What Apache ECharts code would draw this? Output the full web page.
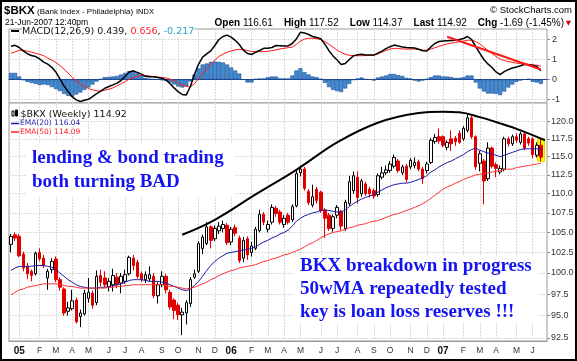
<!DOCTYPE html>
<html><head><meta charset="utf-8">
<script src="https://cdn.jsdelivr.net/npm/echarts@6/dist/echarts.min.js"></script>
<style>html,body{margin:0;padding:0;background:#fff}#c{width:577px;height:361px}</style>
</head><body><div id="c"></div>
<script>
// ---- data ----
const firstWeek = [2004, 11, 20]; // Monday of the first weekly bar (UTC y, m0, d)
const monthLabels = ['05','F','M','A','M','J','J','A','S','O','N','D','06','F','M','A','M','J','J','A','S','O','N','D','07','F','M','A','M','J'];
// [open, close, low, high]
const ohlc = [
[103.5,104.5,102.5,104.8],[104.7,104.3,103.9,105.0],[104.5,102.1,101.9,104.8],[102.3,100.6,100.2,102.6],[100.8,99.9,99.3,101.2],
[100.2,99.7,99.0,100.4],[99.9,102.4,99.7,102.6],[102.5,101.7,101.4,103.0],[101.8,100.9,100.6,102.2],[99.4,100.2,98.0,100.5],
[100.4,101.4,100.0,101.8],[101.7,99.2,98.9,102.0],[99.2,98.3,97.9,99.5],[98.1,95.3,95.0,98.3],[95.5,95.9,95.0,96.6],
[95.8,96.7,95.6,98.0],[96.8,94.3,94.1,97.1],[94.9,95.3,93.7,95.7],[95.2,97.6,95.0,98.0],[97.0,97.7,96.5,99.4],
[97.6,96.2,95.8,97.9],[96.5,99.6,96.2,100.3],[99.7,98.9,98.4,100.4],[99.4,98.6,98.3,100.2],[98.3,99.0,97.8,99.4],
[98.6,99.7,97.8,100.5],[99.5,98.6,98.2,100.0],[98.8,99.6,97.6,100.0],[99.0,99.8,98.7,100.4],[99.9,101.9,99.7,102.1],
[101.8,100.9,100.3,102.2],[101.3,99.6,99.3,101.6],[99.9,99.2,98.9,100.2],[99.2,99.8,98.8,100.2],[99.3,99.8,99.0,100.8],
[99.6,97.3,97.0,100.0],[97.3,98.6,96.4,98.9],[98.6,99.6,98.3,100.2],[99.6,98.0,97.6,99.9],[97.7,96.0,95.7,98.0],
[96.8,95.6,94.6,97.0],[96.2,95.1,94.5,96.5],[95.1,95.4,92.8,95.9],[95.3,96.5,94.0,96.8],[96.4,99.2,96.0,99.5],
[99.5,99.9,99.3,100.4],[100.2,103.6,100.0,103.9],[103.0,104.4,102.3,104.7],[103.6,105.7,103.4,106.3],[105.7,104.0,103.0,105.9],
[104.2,105.5,103.9,105.9],[105.2,105.8,104.8,106.3],[105.5,106.0,105.0,106.5],[105.9,103.7,103.4,106.2],[103.8,105.4,103.4,105.7],
[105.6,104.9,104.5,106.0],[104.3,101.5,101.2,104.6],[101.8,104.0,101.3,104.4],[104.2,102.2,101.6,104.5],[102.5,103.3,102.0,103.8],
[103.0,105.4,102.8,105.7],[105.2,107.3,105.0,107.9],[107.3,106.3,105.9,107.6],[105.4,106.0,105.0,106.5],[106.3,108.2,106.0,108.6],
[108.1,107.4,107.0,108.4],[107.6,106.3,106.0,107.9],[106.0,106.8,105.6,107.2],[107.2,106.3,106.0,107.5],[106.6,108.3,106.3,108.6],
[108.4,112.7,108.2,113.3],[112.8,113.3,112.3,113.8],[113.3,110.7,110.4,113.6],[110.3,108.8,108.5,110.6],[108.5,109.6,108.2,111.2],
[110.6,109.1,108.7,110.9],[110.2,107.8,107.5,110.4],[107.8,106.8,104.3,108.1],[107.2,105.5,105.2,107.5],[105.5,107.0,105.1,107.3],
[107.2,108.2,106.8,108.5],[107.7,105.8,105.2,107.9],[105.5,108.9,105.2,109.2],[108.7,111.6,108.4,112.4],[110.4,112.4,110.0,113.0],
[112.2,109.5,108.7,113.0],[110.0,111.7,109.6,112.0],[111.3,110.0,109.7,111.6],[110.6,110.0,109.5,110.9],[110.4,109.7,109.3,110.7],
[109.9,112.4,109.6,112.7],[112.2,112.8,111.9,113.6],[112.8,113.2,112.5,113.8],[113.1,114.0,112.8,114.4],[113.7,114.9,113.4,115.3],
[114.4,113.1,112.8,114.7],[112.8,113.6,112.5,113.9],[113.7,111.9,111.5,114.0],[113.6,114.5,113.3,114.8],[113.8,114.2,113.4,114.9],
[114.3,113.3,113.0,114.6],[113.3,112.0,111.3,113.6],[113.1,114.0,112.7,114.3],[114.2,117.3,114.0,117.6],[117.1,117.7,116.8,118.2],
[117.8,117.2,116.8,119.0],[117.8,116.6,116.3,118.0],[116.3,117.0,115.9,117.3],[117.5,116.8,115.8,118.7],[117.6,117.1,116.5,117.9],
[118.3,117.0,116.8,118.7],[117.5,119.0,117.2,119.3],[118.7,120.5,118.4,121.0],[120.5,117.8,117.5,120.8],[117.8,113.6,113.2,118.0],
[114.1,115.4,113.0,115.8],[114.4,111.7,108.6,114.7],[112.0,116.2,111.7,117.0],[116.2,113.7,113.4,116.4],[113.9,113.4,112.2,114.2],
[112.9,113.4,112.6,113.8],[113.3,117.5,113.0,117.8],[117.5,116.8,116.4,117.8],[116.8,117.8,116.5,118.1],[117.8,117.3,116.9,118.3],
[117.0,118.2,116.7,118.5],[118.2,116.2,115.9,118.4],[117.5,116.9,116.5,117.8],[117.5,115.3,114.8,117.7],[115.2,116.6,114.9,117.0],
[116.61,114.92,114.37,117.52]
];
const ema20 = [
100.3,100.6,100.8,100.8,100.8,100.8,100.9,100.9,100.9,100.8,
100.7,100.4,100.0,99.6,99.2,98.9,98.6,98.4,98.3,98.2,
98.2,98.2,98.3,98.3,98.4,98.5,98.6,98.7,98.9,99.1,
99.2,99.2,99.2,99.1,99.0,99.0,99.0,98.9,98.8,98.6,
98.4,98.2,98.0,97.9,98.1,98.5,99.0,99.6,100.3,100.9,
101.4,101.8,102.1,102.4,102.5,102.6,102.7,102.8,102.9,103.0,
103.2,103.5,103.8,104.0,104.3,104.5,104.8,105.0,105.3,105.8,
106.4,106.8,107.1,107.3,107.5,107.6,107.8,107.9,107.8,107.7,
107.6,107.6,107.9,108.3,108.7,109.0,109.3,109.5,109.7,109.9,
110.2,110.5,110.8,111.0,111.2,111.3,111.4,111.4,111.5,111.7,
111.9,112.1,112.4,112.9,113.2,113.6,113.9,114.2,114.4,114.7,
115.0,115.3,115.7,116.0,116.2,115.9,115.7,115.5,115.4,115.2,
115.0,115.2,115.4,115.6,115.8,116.0,116.1,116.1,116.1,116.1,
116.04];
const ema50 = [
97.4,97.7,98.0,98.1,98.3,98.4,98.5,98.6,98.7,98.7,
98.7,98.7,98.6,98.5,98.4,98.4,98.3,98.2,98.2,98.2,
98.2,98.2,98.2,98.2,98.3,98.3,98.4,98.4,98.5,98.5,
98.6,98.6,98.6,98.6,98.6,98.6,98.6,98.6,98.5,98.4,
98.4,98.3,98.2,98.1,98.2,98.3,98.5,98.7,98.9,99.2,
99.4,99.7,99.9,100.1,100.3,100.4,100.6,100.7,100.8,100.9,
101.0,101.2,101.4,101.5,101.7,101.8,102.0,102.2,102.3,102.5,
102.7,102.9,103.2,103.5,103.7,104.0,104.3,104.6,104.8,105.0,
105.1,105.2,105.4,105.6,105.7,105.9,106.0,106.1,106.3,106.4,
106.5,106.7,106.9,107.1,107.3,107.4,107.6,107.8,108.0,108.2,
108.4,108.7,109.0,109.4,109.8,110.2,110.6,110.9,111.1,111.4,
111.6,111.9,112.1,112.3,112.5,112.6,112.7,112.8,112.9,113.0,
113.1,113.2,113.3,113.3,113.5,113.6,113.7,113.8,113.9,114.0,
114.09];
const macdLine = [
1.66,1.71,1.60,1.43,1.29,1.20,1.15,1.03,0.87,0.77,
0.61,0.37,0.03,-0.32,-0.60,-0.86,-1.02,-1.10,-1.04,-0.99,
-0.86,-0.71,-0.58,-0.44,-0.35,-0.27,-0.18,-0.05,0.16,0.37,
0.42,0.35,0.27,0.16,0.14,0.14,0.10,0.06,-0.02,-0.20,
-0.42,-0.61,-0.75,-0.77,-0.35,0.25,0.76,1.12,1.28,1.43,
1.70,2.00,2.15,2.22,2.12,1.96,1.75,1.47,1.30,1.25,
1.36,1.45,1.56,1.56,1.60,1.70,1.69,1.67,1.68,1.80,
2.03,2.36,2.33,2.25,2.15,2.10,2.04,1.77,1.44,1.18,
0.97,0.75,0.80,1.00,1.18,1.24,1.26,1.23,1.22,1.22,
1.32,1.42,1.54,1.64,1.72,1.67,1.63,1.60,1.59,1.58,
1.51,1.44,1.42,1.63,1.80,1.90,1.92,1.94,1.95,1.96,
2.00,2.05,2.15,2.00,1.65,1.32,1.00,0.78,0.60,0.38,
0.24,0.39,0.49,0.58,0.62,0.69,0.76,0.74,0.70,0.65,
0.44];
const signalLine = [
1.31,1.38,1.46,1.46,1.42,1.37,1.31,1.26,1.19,1.07,
0.97,0.85,0.70,0.52,0.32,0.11,-0.06,-0.22,-0.35,-0.45,
-0.52,-0.56,-0.58,-0.54,-0.48,-0.42,-0.32,-0.21,-0.11,0.02,
0.11,0.17,0.21,0.20,0.17,0.14,0.12,0.10,0.08,0.02,
-0.06,-0.18,-0.29,-0.35,-0.36,-0.22,0.05,0.30,0.55,0.78,
0.98,1.15,1.27,1.36,1.43,1.48,1.51,1.50,1.45,1.40,
1.39,1.39,1.40,1.41,1.44,1.48,1.53,1.56,1.59,1.62,
1.75,1.92,2.02,2.06,2.06,2.04,1.99,1.90,1.76,1.62,
1.47,1.35,1.26,1.21,1.19,1.19,1.19,1.20,1.21,1.22,
1.28,1.36,1.45,1.52,1.56,1.55,1.53,1.52,1.52,1.52,
1.50,1.47,1.46,1.52,1.59,1.66,1.72,1.78,1.82,1.85,
1.89,1.92,1.96,1.97,1.90,1.78,1.62,1.45,1.30,1.15,
1.02,0.95,0.90,0.86,0.82,0.80,0.78,0.76,0.74,0.71,
0.66];
const histogram = [
0.33,0.33,0.15,-0.03,-0.12,-0.17,-0.22,-0.28,-0.25,-0.28,
-0.38,-0.48,-0.58,-0.72,-0.82,-0.85,-0.75,-0.65,-0.52,-0.40,
-0.25,-0.10,0.02,0.12,0.13,0.15,0.18,0.25,0.33,0.42,
0.45,0.30,0.20,0.08,0.03,0.02,0.00,-0.03,-0.08,-0.15,
-0.25,-0.35,-0.40,-0.33,-0.10,0.25,0.55,0.75,0.80,0.88,
0.90,0.88,0.85,0.75,0.60,0.45,0.30,0.00,-0.15,-0.15,
0.03,0.05,0.05,0.12,0.15,0.15,0.05,0.05,0.05,0.20,
0.45,0.57,0.37,0.25,0.15,0.12,0.03,-0.17,-0.38,-0.52,
-0.58,-0.63,-0.45,-0.22,-0.02,0.05,0.10,0.02,0.00,-0.05,
0.10,0.15,0.20,0.28,0.28,0.22,0.18,0.08,0.05,-0.05,
-0.10,-0.05,0.03,0.12,0.20,0.20,0.15,0.15,0.12,0.08,
0.08,0.12,0.20,0.20,-0.15,-0.45,-0.60,-0.70,-0.70,-0.72,
-0.78,-0.60,-0.40,-0.25,-0.12,-0.05,0.00,0.03,-0.12,-0.15,
-0.22];
// hand-drawn annotation lines: [week index, value]
const arcPoints = [[42,104.7],[50,106.6],[60,109.9],[70,113.2],[80,117.0],[90,119.8],[100,121.2],[106,121.4],[110,121.3],[115,120.6],[120,119.7],[125,118.7],[131,117.3]];
const macdTrend = [[107,2.14],[130,0.50]];
const priceTicks = [92.5,95,97.5,100,102.5,105,107.5,110,112.5,115,117.5,120];
const macdTicks = [-1,0,1,2];

// ---- build ----
const N = ohlc.length;
const weeks = [];
for (let i = 0; i < N; i++) {
  const t = Date.UTC(firstWeek[0], firstWeek[1], firstWeek[2]) + i * 7 * 864e5;
  weeks.push(new Date(t).toISOString().slice(0, 10));
}
const cats = weeks.concat(['']);
const labelMap = {};
let mi = 0;
for (let i = 1; i < N; i++) {
  if (weeks[i].slice(5, 7) !== weeks[i - 1].slice(5, 7)) labelMap[i] = monthLabels[mi++];
}
const isMonth = (idx) => labelMap[idx] !== undefined;
const highlight = ohlc.map((d, i) => i === N - 1 ? [d[3], d[2], d[2], d[3]] : '-');

const GRID = '#d9d9d9';
const sans = '"Liberation Sans", Arial, sans-serif';
const dvs = '"DejaVu Sans", Verdana, sans-serif';
const serif = '"Liberation Serif", "Times New Roman", serif';
const BLUE = '#1414f0';

const xBase = (gi, showLabels) => ({
  type: 'category', gridIndex: gi, data: cats, boundaryGap: true,
  axisTick: { show: false },
  axisLine: gi === 0 ? { show: true, onZero: true, lineStyle: { color: '#1b3f98', width: 1 } } : { show: true, onZero: false, lineStyle: { color: '#999' } },
  axisLabel: showLabels ? {
    interval: (idx) => isMonth(idx),
    formatter: (v, idx) => { const l = labelMap[idx] || ''; return /^\d/.test(l) ? '{y|' + l + '}' : l; },
    color: '#333', fontSize: 8.5, fontFamily: sans, margin: 5,
    rich: { y: { fontWeight: 'bold', fontSize: 10, color: '#111', fontFamily: sans } }
  } : { show: false },
  splitLine: { show: true, interval: (idx) => isMonth(idx), alignWithLabel: true, lineStyle: { color: GRID, width: 1, type: [2, 1] } }
});

const option = {
  animation: false,
  backgroundColor: '#fff',
  grid: [
    { left: 9, right: 30, top: 29, height: 74, show: true, borderColor: '#999', borderWidth: 1, backgroundColor: '#fff' },
    { left: 9, right: 30, top: 103, height: 238, show: true, borderColor: '#999', borderWidth: 1, backgroundColor: '#fff' }
  ],
  xAxis: [xBase(0, false), xBase(1, true)],
  yAxis: [
    { type: 'value', gridIndex: 0, position: 'right', min: -1.175, max: 2.525,
      axisLine: { show: false },
      axisTick: { show: true, customValues: macdTicks, length: 3, lineStyle: { color: '#888' } },
      axisLabel: { customValues: macdTicks, formatter: (v) => String(v), color: '#333', fontSize: 9, fontFamily: sans, margin: 5 },
      splitLine: { show: true, lineStyle: { color: GRID, type: [2, 1] } } },
    { type: 'log', logBase: 10, gridIndex: 1, position: 'right', min: 92.15, max: 122.67,
      axisLine: { show: false },
      axisTick: { show: true, customValues: priceTicks, length: 3, lineStyle: { color: '#888' } },
      axisLabel: { customValues: priceTicks, formatter: (v) => Number(v).toFixed(1), color: '#333', fontSize: 9, fontFamily: sans, margin: 4 },
      splitLine: { show: true, lineStyle: { color: GRID, type: [2, 1] } } }
  ],
  series: [
    { type: 'bar', name: 'hist', xAxisIndex: 0, yAxisIndex: 0, data: histogram, barWidth: 4,
      itemStyle: { color: '#3f8dd6', borderColor: '#1d4a8c', borderWidth: 0.6 } },
    { type: 'line', name: 'macd', xAxisIndex: 0, yAxisIndex: 0, data: macdLine, symbol: 'none',
      lineStyle: { color: '#000', width: 1.5 }, z: 4 },
    { type: 'line', name: 'signal', xAxisIndex: 0, yAxisIndex: 0, data: signalLine, symbol: 'none',
      lineStyle: { color: '#ff1a1a', width: 1 }, z: 3 },
    { type: 'line', name: 'macdTrend', xAxisIndex: 0, yAxisIndex: 0, data: macdTrend, symbol: 'none',
      lineStyle: { color: '#ff1a1a', width: 2 }, z: 5 },
    { type: 'candlestick', name: 'hl', xAxisIndex: 1, yAxisIndex: 1, data: highlight, barWidth: 7, z: 1,
      itemStyle: { color: '#ffff00', color0: '#ffff00', borderColor: '#e6d300', borderColor0: '#e6d300', borderWidth: 1 } },
    { type: 'candlestick', name: '$BKX', xAxisIndex: 1, yAxisIndex: 1, data: ohlc, barWidth: 3, z: 2,
      itemStyle: { color: '#ffffff', color0: '#e00000', borderColor: '#000000', borderColor0: '#e00000', borderWidth: 1 } },
    { type: 'line', name: 'EMA(20)', xAxisIndex: 1, yAxisIndex: 1, data: ema20, symbol: 'none',
      lineStyle: { color: '#1a1aa6', width: 1 }, z: 3 },
    { type: 'line', name: 'EMA(50)', xAxisIndex: 1, yAxisIndex: 1, data: ema50, symbol: 'none',
      lineStyle: { color: '#ff3333', width: 1 }, z: 3 },
    { type: 'line', name: 'arc', xAxisIndex: 1, yAxisIndex: 1, data: arcPoints, symbol: 'none', smooth: 0.4,
      lineStyle: { color: '#000', width: 2 }, z: 5 }
  ],
  graphic: [
    // header
    { type: 'text', x: 4, y: 11, style: { text: '$BKX', fontSize: 11.5, fontWeight: 'bold', fontFamily: sans, fill: '#000', verticalAlign: 'middle' } },
    { type: 'text', x: 37, y: 11.5, style: { text: '(Bank Index - Philadelphia)', fontSize: 8, fontFamily: sans, fill: '#000', verticalAlign: 'middle' } },
    { type: 'text', x: 136, y: 11.5, style: { text: 'INDX', fontSize: 7.5, fontFamily: sans, fill: '#000', verticalAlign: 'middle' } },
    { type: 'text', x: 572, y: 10, style: { text: '\u00a9 StockCharts.com', fontSize: 9.5, fontFamily: sans, fill: '#000', align: 'right', verticalAlign: 'middle' } },
    { type: 'text', x: 5, y: 23, style: { text: '21-Jun-2007 12:40pm', fontSize: 8.5, fontFamily: sans, fill: '#000', verticalAlign: 'middle' } },
    { type: 'text', x: 564, y: 23, style: {
        text: '{b|Open} 116.61    {b|High} 117.52    {b|Low} 114.37    {b|Last} 114.92    {b|Chg} -1.69 (-1.45%)',
        fontSize: 10, fontFamily: sans, fill: '#000', align: 'right', verticalAlign: 'middle',
        rich: { b: { fontWeight: 'bold', fontSize: 10, fontFamily: sans, fill: '#000' } } } },
    { type: 'text', x: 566, y: 23.5, style: { text: '\u25bc', fontSize: 6.5, fontFamily: dvs, fill: '#d00000', verticalAlign: 'middle' } },
    // MACD legend
    { type: 'line', shape: { x1: 11, y1: 31, x2: 19, y2: 31 }, style: { stroke: '#000', lineWidth: 2 }, z: 20 },
    { type: 'text', x: 22, y: 31.5, z: 20, style: {
        text: 'MACD(12,26,9) 0.439, {r|0.656}, {t|-0.217}', fontSize: 9.5, fontFamily: dvs, fill: '#111', verticalAlign: 'middle',
        backgroundColor: '#fff',
        rich: { r: { fill: '#ff2020', fontSize: 9.5, fontFamily: dvs }, t: { fill: '#22a3c8', fontSize: 9.5, fontFamily: dvs } } } },
    // main legend
    { type: 'rect', shape: { x: 12, y: 111, width: 2, height: 5 }, style: { fill: '#fff', stroke: '#000', lineWidth: 1 }, z: 20 },
    { type: 'rect', shape: { x: 15.5, y: 110, width: 2, height: 6 }, style: { fill: '#000', stroke: '#000', lineWidth: 1 }, z: 20 },
    { type: 'text', x: 20.5, y: 114.5, z: 20, style: { text: '$BKX (Weekly) 114.92', fontSize: 9.5, fontFamily: dvs, fill: '#111', verticalAlign: 'middle', backgroundColor: '#fff' } },
    { type: 'line', shape: { x1: 11, y1: 123.5, x2: 19, y2: 123.5 }, style: { stroke: '#1a1aa6', lineWidth: 1.5 }, z: 20 },
    { type: 'text', x: 20, y: 123.5, z: 20, style: { text: 'EMA(20) 116.04', fontSize: 7.5, fontFamily: dvs, fill: '#1a1aa6', verticalAlign: 'middle', backgroundColor: '#fff' } },
    { type: 'line', shape: { x1: 11, y1: 132, x2: 19, y2: 132 }, style: { stroke: '#ff2020', lineWidth: 1.5 }, z: 20 },
    { type: 'text', x: 20, y: 132, z: 20, style: { text: 'EMA(50) 114.09', fontSize: 7.5, fontFamily: dvs, fill: '#ff2020', verticalAlign: 'middle', backgroundColor: '#fff' } },
    // annotations
    { type: 'rect', shape: { x: 27, y: 143, width: 208, height: 54 }, style: { fill: '#fff' }, z: 30 },
    { type: 'text', x: 32, y: 158, z: 31, style: { text: 'lending & bond trading', fontSize: 19, fontWeight: 'bold', fontFamily: serif, fill: BLUE, verticalAlign: 'middle' } },
    { type: 'text', x: 32, y: 182.5, z: 31, style: { text: 'both turning BAD', fontSize: 19, fontWeight: 'bold', fontFamily: serif, fill: BLUE, verticalAlign: 'middle' } },
    { type: 'rect', shape: { x: 294, y: 255, width: 244, height: 68 }, style: { fill: '#fff' }, z: 30 },
    { type: 'text', x: 300, y: 266, z: 31, style: { text: 'BKX breakdown in progress', fontSize: 19, fontWeight: 'bold', fontFamily: serif, fill: BLUE, verticalAlign: 'middle' } },
    { type: 'text', x: 300, y: 289, z: 31, style: { text: '50wMA repeatedly tested', fontSize: 19, fontWeight: 'bold', fontFamily: serif, fill: BLUE, verticalAlign: 'middle' } },
    { type: 'text', x: 300, y: 312, z: 31, style: { text: 'key is loan loss reserves !!!', fontSize: 19, fontWeight: 'bold', fontFamily: serif, fill: BLUE, verticalAlign: 'middle' } },
    // outer frame
    { type: 'rect', shape: { x: 1, y: 1, width: 575, height: 359 }, style: { fill: 'none', stroke: '#000', lineWidth: 2 }, z: 100 }
  ]
};
const chart = echarts.init(document.getElementById('c'), null, { renderer: 'canvas', width: 577, height: 361 });
chart.setOption(option);
</script>
</body></html>
